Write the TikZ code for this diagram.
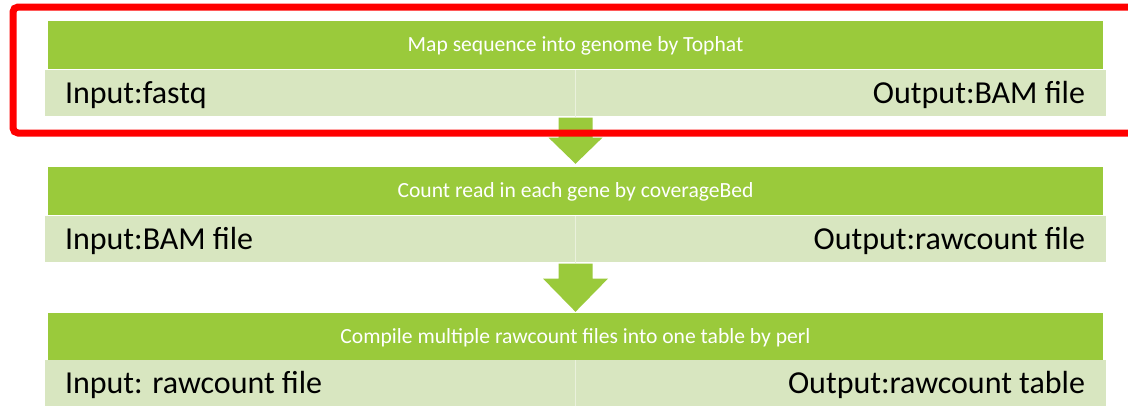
\documentclass[tikz,border=0pt]{standalone}
\usepackage{fontspec}
\setmainfont{Carlito}
\usepackage{tikz}
\usetikzlibrary{positioning}
\definecolor{stepgreen}{RGB}{154,202,59}
\definecolor{steplight}{RGB}{216,230,192}
\definecolor{markred}{RGB}{255,0,0}
% #1 from, #2 to, #3 stem half width, #4 head half width, #5 stem length, #6 gap at tip
\newcommand{\flowarrow}[6]{
    \fill[stepgreen] (#1.south) ++(-#3,1) -- ++(0,#5) coordinate (headL)
        -- ([xshift=-#4 pt]#1.south |- headL) -- ([yshift=#6 pt]#2.north)
        -- ([xshift=#4 pt]#1.south |- headL) -- ([xshift=#3 pt]#1.south |- headL)
        -- ([xshift=#3 pt, yshift=-1pt]#1.south) -- cycle;
}
\tikzset{
    stephead/.style={rectangle, fill=stepgreen, text=white, inner sep=0pt,
        minimum width=1055pt, minimum height=48pt,
        font=\fontsize{21.6}{24}\selectfont, text height=13.6pt, text depth=0pt},
    steprow/.style={rectangle, fill=steplight, inner sep=0pt,
        minimum width=1061pt, minimum height=46pt},
    iotext/.style={inner sep=0pt, font=\fontsize{32}{36}\selectfont,
        text height=20pt, text depth=0pt},
    divider/.style={draw=white!45!steplight, line width=1.5pt},
    markframe/.style={draw=markred, line width=7pt, rounded corners=5pt}
}

\begin{document}
\begin{tikzpicture}[x=1pt, y=-1pt]
    \useasboundingbox (0,0) rectangle (1128,405);
    % step 1
    \node[stephead] (map) at (575.5,45) {Map sequence into genome by Tophat};
    \node[steprow, below=1pt of map] (maprow) {};
    \draw[divider] (maprow.north) -- (maprow.south);
    \node[iotext, anchor=west] (mapin) at ([xshift=20pt]maprow.west) {Input:fastq};
    \node[iotext, anchor=east] (mapout) at ([xshift=-21pt]maprow.east) {Output:BAM file};
    % step 2
    \node[stephead] (count) at (575.5,191) {Count read in each gene by coverageBed};
    \node[steprow, below=1pt of count] (countrow) {};
    \draw[divider] (countrow.north) -- (countrow.south);
    \node[iotext, anchor=west] (countin) at ([xshift=20pt]countrow.west) {Input:BAM file};
    \node[iotext, anchor=east] (countout) at ([xshift=-21pt]countrow.east) {Output:rawcount file};
    % step 3
    \node[stephead, minimum height=47pt] (merge) at (575.5,336.5) {Compile multiple rawcount files into one table by perl};
    \node[steprow, below=0pt of merge] (mergerow) {};
    \draw[divider] (mergerow.north) -- (mergerow.south);
    \node[iotext, anchor=west] (mergein) at ([xshift=20pt]mergerow.west) {Input: rawcount file};
    \node[iotext, anchor=east] (mergeout) at ([xshift=-21pt]mergerow.east) {Output:rawcount table};
    % arrows
    \flowarrow{maprow}{count}{17}{27}{20}{3}
    \draw[markframe] (13,7) rectangle (1170,133);
    \flowarrow{countrow}{merge}{17}{32.5}{15}{1}
\end{tikzpicture}
\end{document}
